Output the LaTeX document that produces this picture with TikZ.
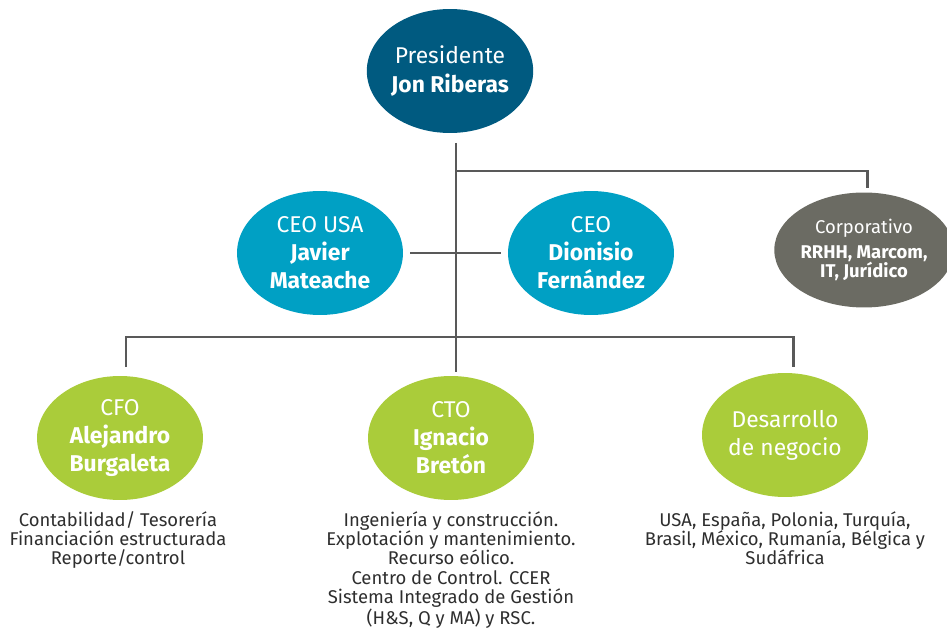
\documentclass[tikz,border=0pt]{standalone}
\usepackage{fontspec}
\setmainfont{Fira Sans}
\usepackage{tikz}
\usetikzlibrary{calc}
\usetikzlibrary{shapes}
\definecolor{presblue}{HTML}{005A80}
\definecolor{ceoblue}{HTML}{00A0C4}
\definecolor{corpgray}{HTML}{6B6B63}
\definecolor{leafgreen}{HTML}{AACC3A}
\definecolor{linegray}{HTML}{595959}
\definecolor{textgray}{HTML}{2E2E2E}
\tikzset{
  boss/.style={ellipse, draw=none, text=white, align=center, inner sep=0pt,
    minimum width=3.32cm, minimum height=2.48cm, font=\fontsize{13}{16}\selectfont},
  link/.style={draw=linegray, line width=1.7pt},
  duties/.style={anchor=north, align=center, text=textgray, inner sep=0pt,
    font=\fontsize{10.5}{11}\selectfont}
}
\newcommand{\boss}[5]{\node[boss, fill=#4] (#1) at ( #2 , #3 ) {#5};}
\newcommand{\duties}[4]{\node[duties] (#1) at ( #2 , #3 ) {#4};}
\begin{document}
\begin{tikzpicture}[x=0.02cm,y=-0.02cm]
\useasboundingbox (0,0) rectangle (947,628);
% top of the tree
\boss{pres}{450}{71}{presblue}{Presidente\\\textbf{Jon Riberas}}
% row of ceos
\boss{ceousa}{320}{253}{ceoblue}{CEO USA\\\textbf{Javier}\\\textbf{Mateache}}
\boss{ceo}{591}{253}{ceoblue}{CEO\\\textbf{Dionisio}\\\textbf{Fernández}}
\node[boss, fill=corpgray, minimum height=2.3cm, font=\fontsize{10.5}{11}\selectfont] (corp) at (864,250)
  {Corporativo\\[3pt]\textbf{RRHH, Marcom,}\\\textbf{IT, Jurídico}};
% bottom row
\boss{cfo}{120}{438}{leafgreen}{CFO\\\textbf{Alejandro}\\\textbf{Burgaleta}}
\boss{cto}{451}{438}{leafgreen}{CTO\\\textbf{Ignacio}\\\textbf{Bretón}}
\boss{dev}{785}{435}{leafgreen}{Desarrollo\\de negocio}
% texts under the bottom row
\duties{cfotxt}{118}{511}{Contabilidad/ Tesorería\\Financiación estructurada\\Reporte/control}
\duties{ctotxt}{451}{511}{Ingeniería y construcción.\\Explotación y mantenimiento.\\Recurso eólico.\\Centro de Control. CCER\\Sistema Integrado de Gestión\\(H\&S, Q y MA) y RSC.}
\duties{devtxt}{785}{511}{USA, España, Polonia, Turquía,\\Brasil, México, Rumanía, Bélgica y\\Sudáfrica}
% connector ends
\coordinate (top) at (456,143);
\coordinate (fork) at (456,171);
\coordinate (corptop) at (867,188);
\coordinate (bar) at (456,337);
\coordinate (ctotop) at (456,372);
\coordinate (cfotop) at (126,367);
\coordinate (devtop) at (793,367);
\coordinate (usaend) at (410,253);
\coordinate (ceoend) at (501,253);
% connectors
\draw[link] (top) -- (ctotop);
\draw[link] (fork) -| (corptop);
\draw[link] (usaend) -- (ceoend);
\draw[link] (cfotop) |- (bar) -| (devtop);
\end{tikzpicture}
\end{document}
